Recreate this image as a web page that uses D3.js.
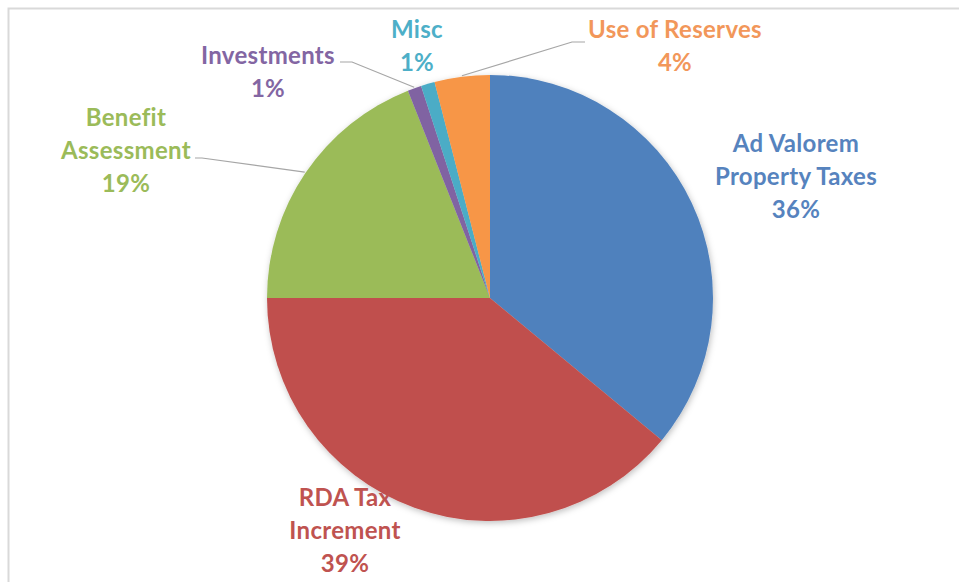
<!DOCTYPE html>
<html><head><meta charset="utf-8">
<script src="https://cdn.jsdelivr.net/npm/d3@7"></script>
<style>
html,body{margin:0;padding:0;background:#fff;}
svg{display:block;}
text{font-family:"Lato","Open Sans",sans-serif;font-weight:700;}
</style></head>
<body>
<svg id="chart" width="959" height="582"></svg>
<script>
const categories = ["Ad Valorem Property Taxes","RDA Tax Increment","Benefit Assessment","Investments","Misc","Use of Reserves"];
const values = [36, 39, 19, 1, 1, 4];
const colors = ["#4F81BD","#C0504D","#9BBB59","#8064A2","#4BACC6","#F79646"];
const textColors = ["#5683BE","#BF5350","#9BBB59","#8366A3","#4DAFC8","#F2975A"];
const labelLines = [["Ad Valorem","Property Taxes"],["RDA Tax","Increment"],["Benefit","Assessment"],["Investments"],["Misc"],["Use of Reserves"]];
// label layout (text centre x, first-line centre y) and leader start points
const labelPos = [[796,144],[345,498],[126,118],[268,56],[417,30],[675,30]];
const leaders = [null,null,[195,158,202,158],[340,62,352,62],null,[585,42,572,42]];

const W=959,H=582,cx=490,cy=298,R=223,lh=33;
const svg=d3.select("#chart");
const defs=svg.append("defs");
const f=defs.append("filter").attr("id","sh").attr("x","-20%").attr("y","-20%").attr("width","140%").attr("height","140%");
f.append("feDropShadow").attr("dx",1).attr("dy",2).attr("stdDeviation",3).attr("flood-color","#000").attr("flood-opacity",0.25);

svg.append("rect").attr("x",8.5).attr("y",8.5).attr("width",W+20).attr("height",H+20)
  .attr("fill","#fff").attr("stroke","#d9d9d9").attr("stroke-width",2);

const data=categories.map((c,i)=>({name:c,value:values[i],i}));
const pie=d3.pie().value(d=>d.value).sort(null).startAngle(0).endAngle(2*Math.PI);
const arcs=pie(data);
const arc=d3.arc().innerRadius(0).outerRadius(R);
const g=svg.append("g").attr("transform",`translate(${cx},${cy})`);
const pg=g.append("g").attr("filter","url(#sh)");
pg.selectAll("path").data(arcs).join("path").attr("d",arc).attr("fill",d=>colors[d.data.i]);

// leader lines
arcs.forEach((a,i)=>{
  const L=leaders[i]; if(!L) return;
  const m=(a.startAngle+a.endAngle)/2;
  const ex=cx+Math.sin(m)*(R+1), ey=cy-Math.cos(m)*(R+1);
  svg.append("polyline").attr("points",`${L[0]},${L[1]} ${L[2]},${L[3]} ${ex},${ey}`)
    .attr("fill","none").attr("stroke","#a6a6a6").attr("stroke-width",1.2);
});

// labels
arcs.forEach((a,i)=>{
  const lines=labelLines[i].concat([Math.round(a.data.value)+"%"]);
  const t=svg.append("text").attr("text-anchor","middle").attr("fill",textColors[i])
    .attr("font-size",24).attr("letter-spacing","0.3px");
  lines.forEach((s,k)=>{
    t.append("tspan").attr("x",labelPos[i][0]).attr("y",labelPos[i][1]+k*lh).attr("dy","0.35em").text(s);
  });
});
</script>
</body></html>
